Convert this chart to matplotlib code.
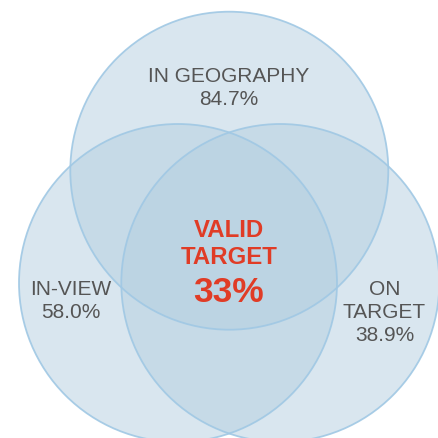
import matplotlib
matplotlib.use("Agg")
import matplotlib.pyplot as plt
from matplotlib.patches import Circle

# data
set_names = ["IN GEOGRAPHY", "IN-VIEW", "ON\nTARGET"]
set_values = [84.7, 58.0, 38.9]
center_label = "VALID\nTARGET"
center_value = 33

plt.rcParams['font.family'] = ['Liberation Sans', 'DejaVu Sans']

fig = plt.figure(figsize=(4.39, 4.39), dpi=100)
ax = fig.add_axes([0, 0, 1, 1])
ax.set_xlim(0, 439)
ax.set_ylim(439, 0)
ax.set_aspect('equal')
ax.axis('off')

# layout (pixel space)
circles = [(229.3, 171.7), (178.0, 284.0), (280.3, 284.0)]
r = 159
fill = '#b4cfe0'
edge = '#a0c8e4'
for (cx, cy) in circles:
    ax.add_patch(Circle((cx, cy), r, facecolor=fill, alpha=0.5, edgecolor='none'))
for (cx, cy) in circles:
    ax.add_patch(Circle((cx, cy), r, facecolor='none', edgecolor=edge, lw=1.3, alpha=0.9))

gray = '#555555'
fs = 15
label_pos = [(229, 76, 100), (71, 290, 313), (384.5, 290, 336)]
line_gap = 23
for name, val, (x, y1, yv) in zip(set_names, set_values, label_pos):
    for i, line in enumerate(name.split('\n')):
        ax.text(x, y1 + i * line_gap, line, ha='center', va='center',
                fontsize=fs, color=gray)
    ax.text(x, yv, f"{val:.1f}%", ha='center', va='center', fontsize=fs, color=gray)

red = '#e03c26'
for i, line in enumerate(center_label.split('\n')):
    ax.text(229, 231 + i * 26.5, line, ha='center', va='center', fontsize=17.3,
            fontweight='bold', color=red)
ax.text(229, 293, f"{center_value}%", ha='center', va='center', fontsize=25.5,
        fontweight='bold', color=red)

fig.savefig('out.png', dpi=100)
